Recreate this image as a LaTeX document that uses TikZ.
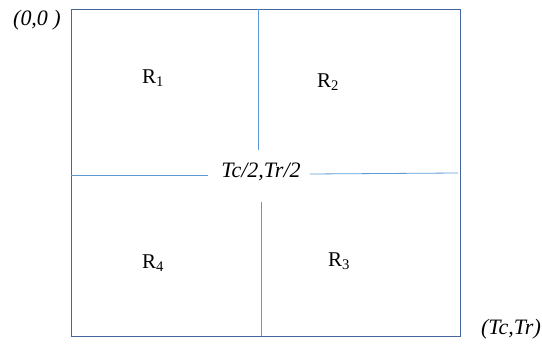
\documentclass[tikz,border=0pt]{standalone}
\usepackage{fontspec}
\setmainfont{Liberation Serif}
\usepackage{tikz}
\usetikzlibrary{positioning,calc}
\definecolor{frameblue}{RGB}{68,104,158}
\definecolor{lineblue}{RGB}{91,155,213}

\begin{document}
\begin{tikzpicture}[x=1pt,y=-1pt,
  region/.style={font=\fontsize{21}{24}\selectfont,inner sep=0pt},
  corner/.style={font=\fontsize{22}{25}\selectfont\itshape,inner sep=0pt},
  divider/.style={lineblue,line width=0.8pt}
]
  \useasboundingbox (0,0) rectangle (542,348);
  \node[draw=frameblue,line width=0.9pt,minimum width=389pt,minimum height=327pt,inner sep=0pt,anchor=north west] (grid) at (71,9) {};
  \node[corner] (origin) at (37,20) {(0,0 )};
  \node[corner] (far) at (511,329) {(Tc,Tr)};
  \node[corner] (mid) at (261,172) {Tc/2,Tr/2};
  \node[region] (r1) at (153,78) {R\textsubscript{1}};
  \node[region] (r2) at (328,82) {R\textsubscript{2}};
  \node[region] (r4) at (153,263) {R\textsubscript{4}};
  \node[region] (r3) at (339,261) {R\textsubscript{3}};
  % split lines, broken round the centre label
  \coordinate (vtop) at (258,9);
  \coordinate (vup) at (258,150);
  \coordinate (vlow) at (261,202);
  \coordinate (vbot) at (261,336);
  \coordinate (hleft) at (71,175);
  \coordinate (hin) at (208,175);
  \coordinate (hout) at (310,174);
  \coordinate (hright) at (458,173);
  \draw[divider] (vtop) -- (vup);
  \draw[divider] (vlow) -- (vbot);
  \draw[divider] (hleft) -- (hin);
  \draw[divider] (hout) -- (hright);
\end{tikzpicture}
\end{document}
